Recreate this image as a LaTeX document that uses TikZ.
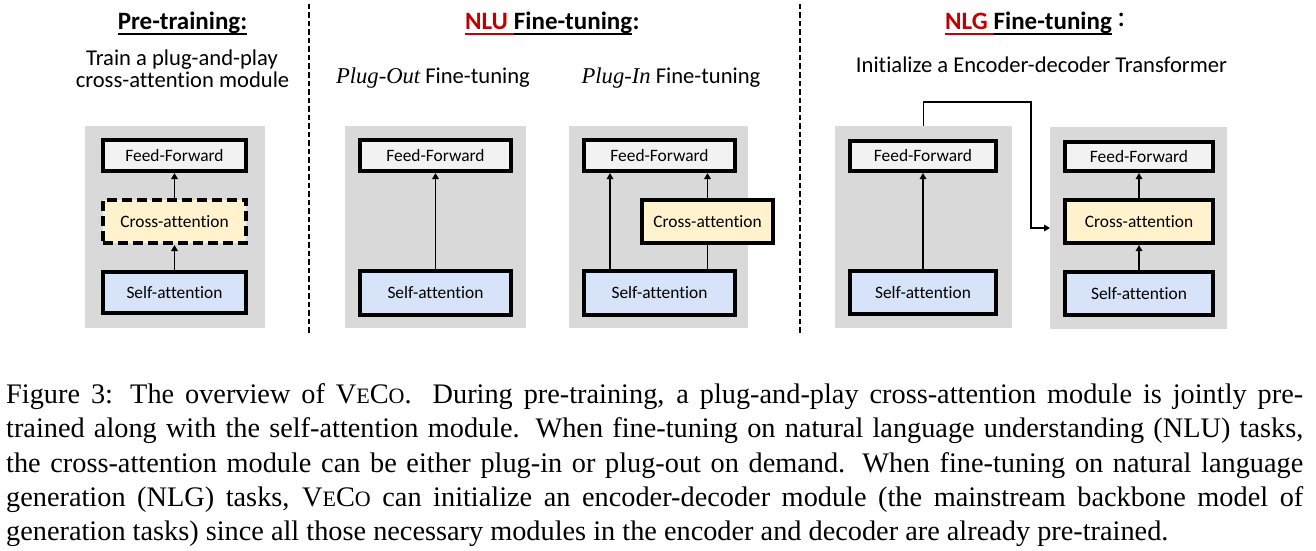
\documentclass[tikz,border=0pt]{standalone}
\usepackage{fontspec}
\setmainfont{Carlito}[Ligatures=NoCommon]
\newfontfamily\capfont{Liberation Serif}
\usetikzlibrary{arrows.meta}
\definecolor{gbg}{HTML}{D9D9D9}
\definecolor{ffc}{HTML}{F2F2F2}
\definecolor{cac}{HTML}{FFF2CC}
\definecolor{sac}{HTML}{D6E3F8}
\definecolor{nlured}{HTML}{C00000}
\newcommand{\veco}{V{\fontsize{22}{0}\selectfont E}C{\fontsize{22}{0}\selectfont O}\spacefactor1000 }
\newcommand{\mkbox}[7]{\node[#2, minimum width={#5-#3-4}, minimum height={#6-#4-4}] (#1) at ({(#3+#5)/2},{(#4+#6)/2}) {#7};}
\newcommand{\mkgray}[5]{\node[graybox, minimum width={#4-#2}, minimum height={#5-#3}] (#1) at ({(#2+#4)/2},{(#3+#5)/2}) {};}
\tikzset{
  graybox/.style={fill=gbg, draw=none, inner sep=0pt, outer sep=0pt},
  blk/.style={draw=black, line width=4pt, inner sep=0pt, font=\fontsize{17.4}{20}\selectfont},
  ffbox/.style={blk, fill=ffc},
  cabox/.style={blk, fill=cac},
  sabox/.style={blk, fill=sac},
  dashbox/.style={blk, fill=cac, dash pattern=on 10pt off 5pt},
  arr/.style={line width=1.8pt, -{Triangle[length=6pt,width=6.5pt]}},
  plainln/.style={line width=1.8pt},
  link/.style={line width=1.6pt, -{Triangle[length=6pt,width=6.5pt]}},
  sepline/.style={line width=2pt, dash pattern=on 5.5pt off 3pt},
  ttl/.style={inner sep=0pt, font=\bfseries\fontsize{25}{30}\selectfont},
  lbl/.style={inner sep=0pt, font=\fontsize{22.6}{26}\selectfont},
  ulblack/.style={line width=1.6pt},
  ulred/.style={line width=2.6pt, draw=nlured},
}
\begin{document}
\begin{tikzpicture}[x=1pt,y=-1pt]
\fill[white] (0,0) rectangle (1316,551);
\useasboundingbox (0,0) rectangle (1316,551);

% separators
\draw[sepline] (309,4) -- (309,333);
\draw[sepline] (800,4) -- (800,333);

% titles
\node[ttl, anchor=base] (preT) at (182.5,30) {Pre-training:};
\draw[ulblack] ([yshift=-4pt]preT.base west) -- ([yshift=-4pt]preT.base east);
\node[lbl, anchor=base] (preA) at (182,65) {Train a plug-and-play};
\node[lbl, anchor=base] (preB) at (182.5,87) {cross-attention module};

\node[ttl, anchor=base west, text=nlured] (nluA) at (465,30) {NLU\kern5.6pt};
\node[ttl, anchor=base west] (nluB) at (nluA.base east) {Fine-tuning};
\node[ttl, anchor=base west] (nluC) at (nluB.base east) {:};
\draw[ulred] ([yshift=-4pt]nluA.base west) -- ([yshift=-4pt]nluA.base east);
\draw[ulblack] ([yshift=-4pt]nluB.base west) -- ([yshift=-4pt]nluB.base east);

\node[ttl, anchor=base west, text=nlured] (nlgA) at (945,30) {NLG\kern5.6pt};
\node[ttl, anchor=base west] (nlgB) at (nlgA.base east) {Fine-tuning};
\node[inner sep=0pt, anchor=base west, font=\fontsize{30}{30}\selectfont, xshift=5pt] (nlgC) at (nlgB.base east) {\raisebox{3pt}{:}};
\draw[ulred] ([yshift=-4pt]nlgA.base west) -- ([yshift=-4pt]nlgA.base east);
\draw[ulblack] ([yshift=-4pt]nlgB.base west) -- ([yshift=-4pt]nlgB.base east);

\node[lbl, anchor=base] (poT) at (433,83) {{\capfont\itshape Plug-Out} Fine-tuning};
\node[lbl, anchor=base] (piT) at (671,83) {{\capfont\itshape Plug-In} Fine-tuning};
\node[lbl, anchor=base] (nlgT) at (1041.5,72) {Initialize a Encoder-decoder Transformer};

% panel A: pre-training
\mkgray{gA}{85}{126}{265}{328}
\mkbox{fA}{ffbox}{101}{138}{248}{173}{Feed-Forward}
\mkbox{cA}{dashbox}{101}{198}{248}{245}{Cross-attention}
\mkbox{sA}{sabox}{101}{270}{248}{315}{Self-attention}
\draw[arr] (cA.north) -- (fA.south);
\draw[arr] (sA.north) -- (cA.south);

% panel B: plug-out
\mkgray{gB}{345}{126}{526}{328}
\mkbox{fB}{ffbox}{358}{138}{513}{173}{Feed-Forward}
\mkbox{sB}{sabox}{358}{269}{513}{317}{Self-attention}
\draw[arr] (sB.north) -- (fB.south);

% panel C: plug-in
\mkgray{gC}{569}{126}{748}{328}
\mkbox{fC}{ffbox}{582}{138}{737}{173}{Feed-Forward}
\mkbox{sC}{sabox}{582}{269}{737}{317}{Self-attention}
\mkbox{cC}{cabox}{640}{198}{775}{245}{Cross-attention}
\coordinate (cl) at (610,0);
\draw[arr] (sC.north -| cl) -- (fC.south -| cl);
\draw[plainln] (cC.south |- sC.north) -- (cC.south);
\draw[arr] (cC.north) -- (fC.south -| cC.north);

% panel D: NLG encoder
\mkgray{gD}{835}{126}{1012}{328}
\mkbox{fD}{ffbox}{848}{139}{998}{173}{Feed-Forward}
\mkbox{sD}{sabox}{848}{269}{998}{316}{Self-attention}
\draw[arr] (sD.north) -- (fD.south);

% panel E: NLG decoder
\mkgray{gE}{1050}{127}{1227}{329}
\mkbox{fE}{ffbox}{1063}{140}{1215}{173}{Feed-Forward}
\mkbox{cE}{cabox}{1063}{198}{1215}{245}{Cross-attention}
\mkbox{sE}{sabox}{1063}{270}{1215}{317}{Self-attention}
\draw[arr] (cE.north) -- (fE.south);
\draw[arr] (sE.north) -- (cE.south);

% encoder to decoder link
\coordinate (k1) at (1031,102);
\draw[link] (gD.north) |- (k1) |- (gE.west);

% caption
\node[anchor=base west, inner sep=0pt, text width=1297pt, align=justify,
      font=\capfont\fontsize{28.3}{34.3}\selectfont] (cap) at (6,403.5)
{\spaceskip=0.25em plus 0.6em minus 0.05em\hyphenpenalty=10000\exhyphenpenalty=10000
Figure 3: The overview of \veco. During pre-training, a plug-and-play cross-attention module is jointly pre-\linebreak
trained along with the self-attention module. When fine-tuning on natural language understanding (NLU) tasks,\linebreak
the cross-attention module can be either plug-in or plug-out on demand. When fine-tuning on natural language\linebreak
generation (NLG) tasks, \veco\ can initialize an encoder-decoder module (the mainstream backbone model of\linebreak
generation tasks) since all those necessary modules in the encoder and decoder are already pre-trained.};
\end{tikzpicture}
\end{document}
